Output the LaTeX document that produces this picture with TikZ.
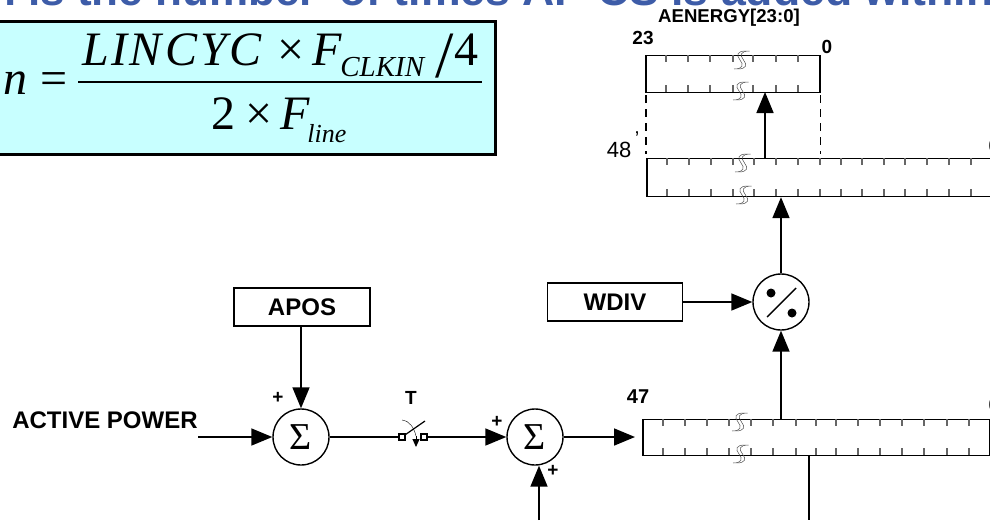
\documentclass[tikz,border=0pt]{standalone}
\usepackage{fontspec}
\setsansfont{Liberation Sans}
\newfontfamily\formfont{Liberation Serif}
\usepackage{xcolor}
\usepackage{tikz}
\usetikzlibrary{arrows.meta}

\definecolor{titleblue}{HTML}{3D5CA8}
\definecolor{formcyan}{HTML}{C8FFFF}

\tikzset{
    sigbox/.style={draw,line width=0.8pt,fill=white,inner sep=0pt,font=\sffamily\bfseries\fontsize{12}{14}\selectfont},
    reg/.style={draw,line width=0.6pt,inner sep=0pt,anchor=north west},
    sumnode/.style={draw,circle,line width=0.7pt,inner sep=0pt,minimum size=28pt,font=\formfont\fontsize{19}{19}\selectfont},
    lab/.style={inner sep=0pt,font=\sffamily\bfseries\fontsize{9.5}{11}\selectfont},
    flow/.style={line width=0.85pt,-{Triangle[length=10.5pt,width=8.5pt]}},
    form/.style={inner sep=0pt,anchor=base west,font=\formfont\fontsize{24}{26}\selectfont},
    formit/.style={inner sep=0pt,anchor=base west,font=\formfont\itshape\fontsize{24}{26}\selectfont},
    formsub/.style={inner sep=0pt,anchor=base west,font=\formfont\itshape\fontsize{14.5}{16}\selectfont},
    regbreak/.pic={
        \draw[line width=0.25pt,black!70] (6,-9) .. controls (-3,-9) and (-4,-5) .. (0,0) .. controls (4,5) and (3,9) .. (-6,9);
        \draw[line width=0.25pt,black!70] (9.5,-9) .. controls (0.5,-9) and (-0.5,-5) .. (3.5,0) .. controls (7.5,5) and (6.5,9) .. (-2.5,9);
    }
}

\begin{document}
\begin{tikzpicture}[x=0.5pt,y=-0.5pt]
\useasboundingbox (0,0) rectangle (990,520);

%% title, cut by the top edge
\node (headinga) [anchor=base east,inner sep=0pt,text=titleblue,font=\sffamily\bfseries\fontsize{22}{24}\selectfont]
    at (317,5) {n is the number};
\node (headingb) [anchor=base west,inner sep=0pt,text=titleblue,font=\sffamily\bfseries\fontsize{22.3}{24}\selectfont]
    at (339,5) {of times AP CS is added within};

%% formula
\node (formbox) [draw,line width=1.25pt,fill=formcyan,anchor=north west,inner sep=0pt,minimum width=252pt,minimum height=66.5pt] at (-10,20) {};
\node (fn) [formit] at (3,94) {n};
\node (feq) [form] at (40,94) {=};
\node (fnum) [formit] at (82,65) {L\kern1pt I\kern1pt N\kern2pt C\kern1.5pt Y\kern1.5pt C};
\node (ftimes) [form] at (277,65) {×};
\node (ff) [formit] at (312,65) {F};
\node (fsub) [formsub] at (340,76) {CLKIN};
\node (fslash) [form,font=\formfont\fontsize{33}{35}\selectfont] at (435,77) {/};
\node (ffour) [form] at (454,65) {4};
\node (ftwo) [form] at (211,129) {2};
\node (ftimesb) [form] at (245,129) {×};
\node (ffb) [formit] at (280,129) {F};
\node (fsubb) [formsub,font=\formfont\itshape\fontsize{13}{15}\selectfont] at (307,142) {line};
\coordinate (fbara) at (78,82);
\coordinate (fbarb) at (482,82);
\draw[line width=0.55pt] (fbara) -- (fbarb);

%% registers
\node (rega) [reg,minimum width=86.5pt,minimum height=18.5pt] at (646,55) {};
\node (regb) [reg,minimum width=180pt,minimum height=19pt] at (647,158) {};
\node (regc) [reg,minimum width=173pt,minimum height=18pt] at (643,419) {};

\foreach \tx in {666,688,710,733,753,776,798}{
    \draw[line width=0.6pt,black!60] (\tx,55) -- (\tx,62) (\tx,85) -- (\tx,92);
}
\foreach \tx in {667,689,711,733,754,776,798,820,841,862,884,905,927,949,971}{
    \draw[line width=0.6pt,black!60] (\tx,158) -- (\tx,165) (\tx,189) -- (\tx,196);
}
\foreach \tx in {663,685,707,729,751,773,796,816,836,858,880,902,924,947,969}{
    \draw[line width=0.6pt,black!60] (\tx,419) -- (\tx,426) (\tx,448) -- (\tx,455);
}
\draw[line width=0.8pt] (rega.north west) -- (rega.south west);
\draw[line width=0.8pt] (rega.north east) -- (rega.south east);
\draw[line width=0.8pt] (regb.north west) -- (regb.south west);
\draw[line width=0.8pt] (regc.north west) -- (regc.south west);
\draw[line width=0.8pt] (regc.north east) -- (regc.south east);

\pic at (740,60) {regbreak};
\pic at (739,91) {regbreak};
\pic at (741,163) {regbreak};
\pic at (742,195) {regbreak};
\pic at (738,422) {regbreak};
\pic at (739,454) {regbreak};

\draw[line width=0.8pt,dash pattern=on 4pt off 3pt,shorten >=2pt,shorten <=1pt] (rega.south west) -- (rega.south west |- regb.north);
\draw[line width=0.55pt,dash pattern=on 4pt off 3pt,shorten >=2pt,shorten <=1pt] (rega.south east) -- (rega.south east |- regb.north);

%% labels on the registers
\node (aenergy) [lab,font=\sffamily\bfseries\fontsize{9.3}{11}\selectfont] at (729,18) {AENERGY[23:0]};
\node (ahigh) [lab] at (643,38) {23};
\node (alow) [lab] at (827,47) {0};
\node (bhigh) [inner sep=0pt,font=\sffamily\fontsize{11}{13}\selectfont] at (619,150) {48};
\node (btick) [inner sep=0pt,font=\sffamily\fontsize{10}{11}\selectfont] at (637,139) {'};
\node (blow) [lab] at (994,146) {0};
\node (chigh) [lab,font=\sffamily\bfseries\fontsize{10}{12}\selectfont] at (638,397) {47};
\node (clow) [lab] at (994,405) {0};

%% summing path
\node (apos) [sigbox,minimum width=68pt,minimum height=19pt] at (302,307) {APOS};
\node (wdiv) [sigbox,minimum width=67.5pt,minimum height=19pt] at (615,302) {WDIV};
\node (sumone) [sumnode] at (301,437) {Σ};
\node (sumtwo) [sumnode] at (535,437) {Σ};
\node (divide) [draw,circle,line width=0.7pt,inner sep=0pt,minimum size=28pt] at (781,302) {};
\draw[line width=0.7pt] (767,317) -- (796,288);
\fill (771,293) circle (4.5);
\fill (792,313) circle (4.5);

\node (active) [lab,font=\sffamily\bfseries\fontsize{12}{14}\selectfont] at (105,420) {ACTIVE POWER};
\node (plusa) [lab] at (278,398) {+};
\node (plusb) [lab] at (497,422) {+};
\node (plusc) [lab] at (553,471) {+};
\node (swlabel) [lab] at (411,398) {T};

%% switch
\node (swa) [draw,line width=0.6pt,fill=white,inner sep=0pt,minimum size=3pt] at (402,437) {};
\node (swb) [draw,line width=0.6pt,fill=white,inner sep=0pt,minimum size=3pt] at (424,437) {};
\coordinate (levertop) at (425,421);
\coordinate (arcstart) at (402,420);
\coordinate (arcend) at (416,436);
\coordinate (arrowend) at (416,447);
\draw[line width=0.6pt] (swa) -- (levertop);
\draw[line width=0.2pt] (arcstart) .. controls (410,421) and (414,428) .. (arcend);
\draw[line width=0.5pt,-{Triangle[length=4pt,width=3.5pt]}] (arcend) -- (arrowend);

%% connectors
\coordinate (activein) at (198,437);
\coordinate (sumin) at (539,520);
\coordinate (cout) at (809,520);
\coordinate (ctap) at (809,455);
\coordinate (btop) at (765,158);
\coordinate (abot) at (765,92);
\coordinate (regcin) at (635,437);

\draw[flow] (activein) -- (sumone.west);
\draw[flow] (apos.south -| sumone) -- (sumone.north);
\draw[line width=0.85pt] (sumone.east) -- (swa.west);
\draw[flow] (swb.east) -- (sumtwo.west);
\draw[flow] (sumin) -- (sumin |- sumtwo.south);
\draw[flow] (sumtwo.east) -- (regcin);
\draw[flow] (regc.north -| divide) -- (divide.south);
\draw[flow] (wdiv.east) -- (divide.west);
\draw[flow] (divide.north) -- (regb.south -| divide);
\draw[flow] (btop) -- (abot);
\draw[line width=0.85pt] (ctap) -- (cout);

\end{tikzpicture}
\end{document}
